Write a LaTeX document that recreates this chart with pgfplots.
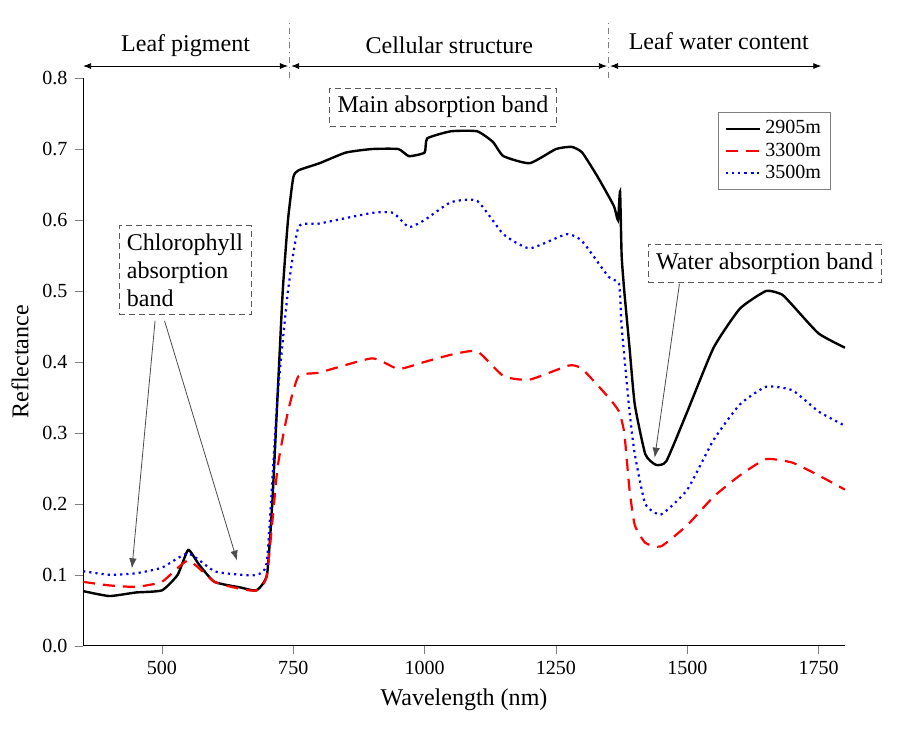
\documentclass[border=0pt]{standalone}
\usepackage{pgfplots}
\pgfplotsset{compat=1.18}
\usepackage{fontspec}
\setmainfont{Liberation Serif}
\usetikzlibrary{arrows.meta}
\begin{document}
\begin{tikzpicture}
\begin{axis}[
  scale only axis, width=380.5pt, height=283.5pt,
  xmin=350, xmax=1800, ymin=0, ymax=0.8,
  axis lines*=left, tick align=outside,
  xtick={500,750,1000,1250,1500,1750},
  ytick={0,0.1,...,0.8},
  xticklabel style={/pgf/number format/.cd,set thousands separator={}},
  yticklabel style={/pgf/number format/.cd,fixed,fixed zerofill,precision=1},
  /pgf/number format/assume math mode=true,
  tick label style={font=\normalsize},
  xlabel={Wavelength (nm)}, ylabel={Reflectance},
  label style={font=\large},
  clip=false,
  legend style={at={(axis cs:1774,0.752)}, anchor=north east, draw=gray, font=\normalsize, row sep=-1pt},
  legend cell align=left,
  every axis plot/.append style={smooth, tension=0.3},
]
\addplot[black, line width=1.2pt] coordinates {(350,0.077)(400,0.07)(450,0.075)(500,0.078)(530,0.1)(550,0.135)(570,0.115)(600,0.09)(650,0.082)(680,0.078)(700,0.1)(710,0.2)(720,0.35)(730,0.5)(740,0.6)(750,0.66)(760,0.67)(800,0.68)(850,0.695)(900,0.70)(950,0.70)(970,0.69)(1000,0.695)(1005,0.715)(1050,0.725)(1100,0.725)(1130,0.71)(1150,0.69)(1200,0.68)(1250,0.70)(1280,0.703)(1300,0.695)(1330,0.66)(1360,0.62)(1368,0.60)(1372,0.64)(1375,0.55)(1380,0.5)(1390,0.42)(1400,0.34)(1420,0.27)(1440,0.255)(1460,0.26)(1500,0.33)(1550,0.42)(1600,0.475)(1650,0.50)(1680,0.495)(1700,0.48)(1750,0.44)(1800,0.42)};
\addlegendentry{2905m}
\addplot[red, line width=1.1pt, dash pattern=on 6pt off 4pt] coordinates {(350,0.09)(400,0.085)(450,0.083)(500,0.09)(550,0.12)(600,0.09)(650,0.08)(680,0.078)(700,0.1)(720,0.25)(740,0.33)(760,0.38)(800,0.385)(900,0.405)(950,0.39)(1000,0.40)(1050,0.41)(1100,0.415)(1150,0.38)(1200,0.375)(1275,0.395)(1300,0.39)(1350,0.35)(1370,0.33)(1380,0.3)(1390,0.22)(1400,0.17)(1420,0.145)(1450,0.14)(1500,0.17)(1550,0.21)(1600,0.24)(1650,0.263)(1700,0.258)(1750,0.24)(1800,0.22)};
\addlegendentry{3300m}
\addplot[blue, line width=1.1pt, dotted] coordinates {(350,0.105)(400,0.10)(450,0.102)(500,0.11)(550,0.13)(600,0.105)(650,0.10)(680,0.1)(700,0.12)(720,0.35)(740,0.5)(760,0.59)(800,0.595)(900,0.61)(940,0.61)(970,0.59)(1000,0.60)(1050,0.625)(1100,0.627)(1150,0.58)(1200,0.56)(1270,0.58)(1300,0.57)(1350,0.52)(1370,0.51)(1375,0.45)(1390,0.33)(1400,0.27)(1420,0.2)(1450,0.185)(1500,0.22)(1550,0.29)(1600,0.34)(1650,0.365)(1700,0.36)(1750,0.33)(1800,0.31)};
\addlegendentry{3500m}
\draw[gray, dash dot] (axis cs:743,0.8) -- (axis cs:743,0.882);
\draw[gray, dash dot] (axis cs:1350,0.8) -- (axis cs:1350,0.882);
\draw[{Latex[length=4pt]}-{Latex[length=4pt]}] (axis cs:350,0.817) -- (axis cs:740,0.817);
\draw[{Latex[length=4pt]}-{Latex[length=4pt]}] (axis cs:746,0.817) -- (axis cs:1347,0.817);
\draw[{Latex[length=4pt]}-{Latex[length=4pt]}] (axis cs:1353,0.817) -- (axis cs:1755,0.817);
\node[font=\large] at (axis cs:545,0.846) {Leaf pigment};
\node[font=\large] at (axis cs:1047,0.846) {Cellular structure};
\node[font=\large] at (axis cs:1560,0.852) {Leaf water content};
\node[font=\large, draw=gray!70!black, densely dashed, inner sep=4pt] at (axis cs:1035,0.759) {Main absorption band};
\node[font=\large, draw=gray!70!black, densely dashed, align=left, inner sep=4pt] at (axis cs:544,0.529) {Chlorophyll\\absorption\\band};
\node[font=\large, draw=gray!70!black, densely dashed, inner sep=4pt] at (axis cs:1647,0.539) {Water absorption band};
\draw[gray!60!black, -{Latex[length=5pt]}] (axis cs:487,0.458) -- (axis cs:443,0.109);
\draw[gray!60!black, -{Latex[length=5pt]}] (axis cs:505,0.458) -- (axis cs:643,0.12);
\draw[gray!60!black, -{Latex[length=5pt]}] (axis cs:1485,0.51) -- (axis cs:1438,0.265);
\end{axis}
\useasboundingbox (current axis.south west)++(-41.5pt,-45.5pt) rectangle ([xshift=31.5pt,yshift=39pt]current axis.north east);
\end{tikzpicture}
\end{document}
